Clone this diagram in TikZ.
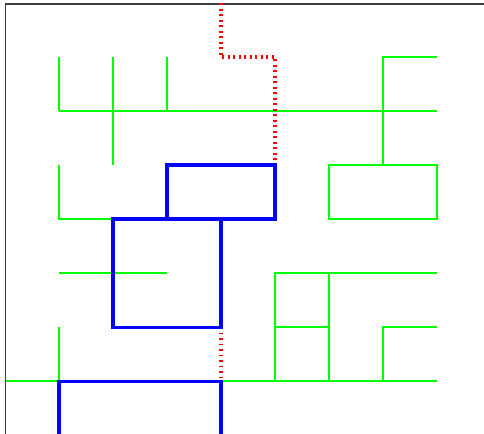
\documentclass[tikz,border=0pt]{standalone}
\usepackage{xcolor}
\usepackage{tikz}
\definecolor{mygreen}{RGB}{0,255,0}
\definecolor{myblue}{RGB}{0,0,255}
\definecolor{myred}{RGB}{255,0,0}
\definecolor{myframe}{RGB}{60,60,60}
\tikzset{
  wall/.style={draw=mygreen, line width=0.55pt},
  route/.style={draw=myblue, line width=1.6pt},
  trail/.style={draw=myred, line width=2pt, dash pattern=on 1pt off 1.9pt},
  frame/.style={draw=myframe, line width=0.8pt}
}

\begin{document}
\begin{tikzpicture}[x=1cm, y=-1cm]
  \useasboundingbox (-0.0926,-0.0556) rectangle (8.870,7.981);
  \clip (-0.0926,-0.0556) rectangle (8.870,7.981);

  % Frame
  \draw[frame] (0.01,8.2) -- (0.01,0.0185) -- (9,0.0185);

  % Green walls, top part
  \foreach \i in {1,3}
    \draw[wall] (\i,1) -- (\i,2);
  \draw[wall] (2,1) -- (2,3);
  \draw[wall] (1,2) -- (8,2);
  \draw[wall] (8,1) -- (7,1) -- (7,3);
  \draw[wall] (1,3) -- (1,4) -- (2,4);
  \draw[wall] (6,3) rectangle (8,4);
  \draw[wall] (1,5) -- (3,5);

  % Green walls, bottom part
  \draw[wall] (8,5) -- (5,5) -- (5,7);
  \draw[wall] (5,6) -- (6,6);
  \draw[wall] (6,5) -- (6,7);
  \draw[wall] (8,6) -- (7,6) -- (7,7);
  \draw[wall] (1,6) -- (1,7);
  \draw[wall] (0.01,7) -- (8,7);

  % Red dotted trail
  \draw[trail] (4,-0.1) -- (4,1) -- (5,1) -- (5,3);
  \draw[trail] (4,6) -- (4,7);

  % Blue route
  \draw[route] (3,3) rectangle (5,4);
  \draw[route] (2,4) rectangle (4,6);
  \draw[route] (1,8.2) -- (1,7) -- (4,7) -- (4,8.2);
\end{tikzpicture}
\end{document}
